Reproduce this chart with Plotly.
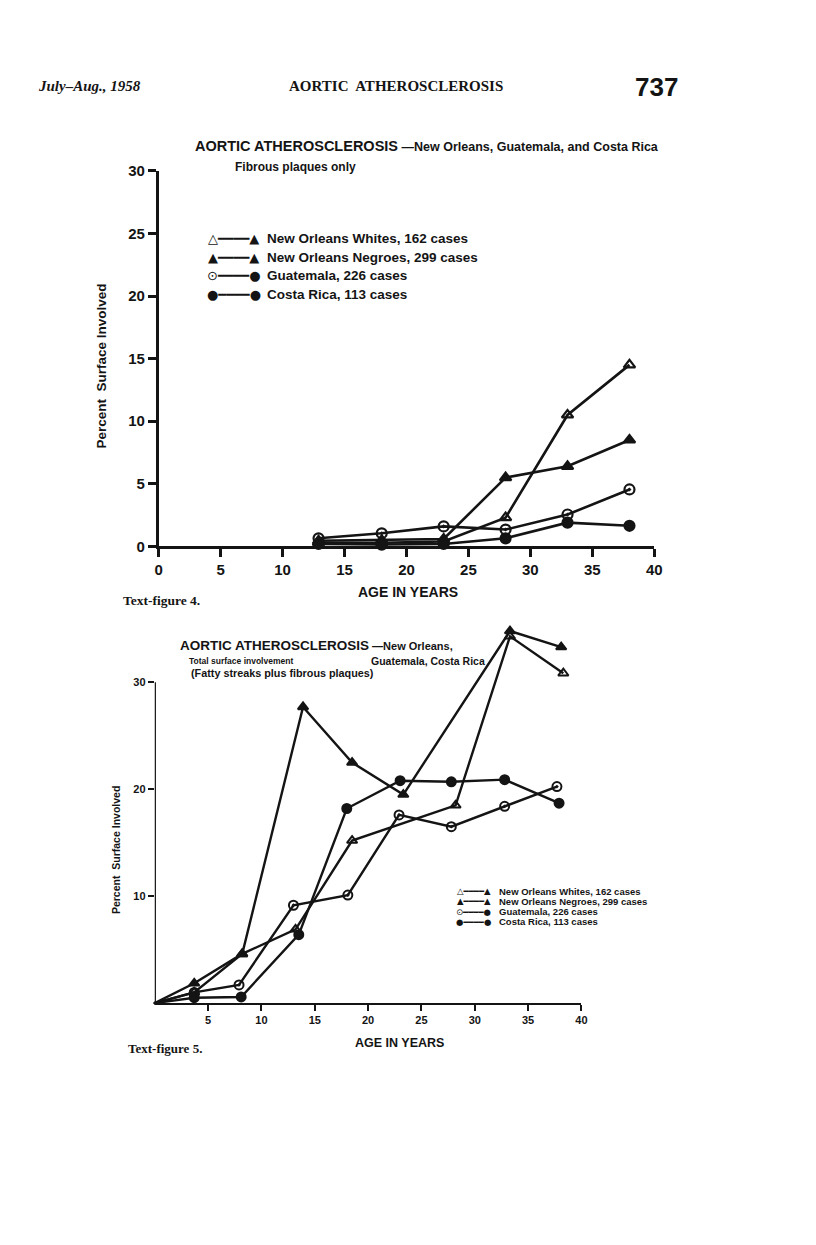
import plotly.graph_objects as go

# ---------------- DATA ----------------
# Text-figure 4: Fibrous plaques only
fig4_ages = [12.9, 18.0, 23.0, 28.0, 33.0, 38.0]
fig4_whites = [0.3, 0.3, 0.4, 2.3, 10.5, 14.5]
fig4_negroes = [0.45, 0.5, 0.6, 5.5, 6.4, 8.5]
fig4_guatemala = [0.65, 1.05, 1.6, 1.35, 2.55, 4.55]
fig4_costarica = [0.2, 0.15, 0.2, 0.65, 1.9, 1.65]

# Text-figure 5: Total surface involvement
fig5_whites_age = [0, 3.7, 8.2, 13.2, 18.5, 28.2, 33.3, 38.3]
fig5_whites = [0, 1.0, 4.6, 6.9, 15.2, 18.5, 34.3, 30.85]
fig5_negroes_age = [0, 3.7, 8.2, 13.9, 18.5, 23.3, 33.3, 38.1]
fig5_negroes = [0, 1.85, 4.6, 27.7, 22.5, 19.5, 34.8, 33.3]
fig5_guatemala_age = [0, 3.7, 7.9, 13.0, 18.1, 22.9, 27.8, 32.8, 37.7]
fig5_guatemala = [0, 1.0, 1.7, 9.15, 10.1, 17.6, 16.5, 18.4, 20.25]
fig5_costarica_age = [0, 3.7, 8.1, 13.5, 18.0, 23.0, 27.8, 32.8, 37.9]
fig5_costarica = [0, 0.5, 0.57, 6.4, 18.2, 20.8, 20.7, 20.9, 18.7]

series_names = ["New Orleans Whites, 162 cases", "New Orleans Negroes, 299 cases",
                "Guatemala, 226 cases", "Costa Rica, 113 cases"]
fig4_xticks = [0, 5, 10, 15, 20, 25, 30, 35, 40]
fig4_yticks = [0, 5, 10, 15, 20, 25, 30]
fig5_xticks = [5, 10, 15, 20, 25, 30, 35, 40]
fig5_yticks = [10, 20, 30]

# ---------------- STYLE ----------------
OFF = 8                      # default body margin of the page
W, H = 800, 1229
# measured mapping from page pixels to the photographed picture
SX, SY, CX, CY = 0.988, 0.987, 2.9, 9.2
INK = "#141414"
SANS = "Liberation Sans"
SERIF = "Liberation Serif"
symbols = ["triangle-up-open", "triangle-up", "circle-open-dot", "circle"]


def px(x):
    return ((x - CX) / SX - OFF) / W


def py(y):
    return 1 - ((y - CY) / SY - OFF) / H


fig = go.Figure()

# Figure 4 traces
for name, ys, sym in zip(series_names,
                         [fig4_whites, fig4_negroes, fig4_guatemala, fig4_costarica],
                         symbols):
    fig.add_trace(go.Scatter(
        x=fig4_ages, y=ys, name=name, mode="lines+markers",
        line=dict(color=INK, width=2.6),
        marker=dict(symbol=sym, size=10, color=INK, opacity=1,
                    line=dict(color=INK, width=2.2)),
        xaxis="x", yaxis="y", cliponaxis=False, showlegend=False))

# Figure 5 traces
for name, xs, ys, sym in zip(series_names,
                             [fig5_whites_age, fig5_negroes_age, fig5_guatemala_age, fig5_costarica_age],
                             [fig5_whites, fig5_negroes, fig5_guatemala, fig5_costarica],
                             symbols):
    fig.add_trace(go.Scatter(
        x=xs, y=ys, name=name, mode="lines+markers",
        line=dict(color=INK, width=2.4),
        marker=dict(symbol=sym, size=[0] + [9] * (len(xs) - 1), color=INK, opacity=1,
                    line=dict(color=INK, width=2)),
        xaxis="x2", yaxis="y2", cliponaxis=False, showlegend=False))

axis_common = dict(showgrid=False, zeroline=False, linecolor=INK,
                   ticks="outside", tickcolor=INK, color=INK, fixedrange=True)

# fig 5: 0 at y=1002, 30 at y=682 (picture px); range extended so the peaks are not clipped
f5_unit = (1004 - 683) / 30.0
f5_top = 36
fig.update_layout(
    width=W, height=H, margin=dict(l=0, r=0, t=0, b=0),
    paper_bgcolor="white", plot_bgcolor="rgba(0,0,0,0)", showlegend=False,
    xaxis=dict(domain=[px(158), px(655)], range=[0, 40], anchor="y", showline=True,
               tickvals=fig4_xticks, linewidth=2.6, tickwidth=2.6, ticklen=8,
               tickfont=dict(family=SANS, size=15, color=INK, weight="bold"),
               **axis_common),
    yaxis=dict(domain=[py(547), py(171)], range=[0, 30], anchor="x", showline=True,
               tickvals=fig4_yticks, linewidth=2.6, tickwidth=2.6, ticklen=8,
               tickfont=dict(family=SANS, size=15, color=INK, weight="bold"),
               **axis_common),
    xaxis2=dict(domain=[px(154), px(582)], range=[0, 40], anchor="y2", showline=True,
                tickvals=fig5_xticks, linewidth=2.4, tickwidth=2.4, ticklen=6,
                tickfont=dict(family=SANS, size=11, color=INK, weight="bold"),
                **axis_common),
    yaxis2=dict(domain=[py(1004), py(1004 - f5_unit * f5_top)], range=[0, f5_top],
                anchor="x2", showline=False,
                tickvals=fig5_yticks, tickwidth=2.4, ticklen=6,
                tickfont=dict(family=SANS, size=11, color=INK, weight="bold"),
                **axis_common),
    shapes=[dict(type="line", xref="x2", yref="y2", x0=0, x1=0, y0=0, y1=max(fig5_yticks),
                 line=dict(color=INK, width=2.4))],
)

ann = []


def text(x, y, s, size, family=SANS, bold=True, italic=False, xanchor="left",
         yanchor="middle", angle=0):
    ann.append(dict(x=px(x), y=py(y), xref="paper", yref="paper", text=s,
                    showarrow=False, xanchor=xanchor, yanchor=yanchor, textangle=angle,
                    font=dict(family=family, size=size, color=INK,
                              weight="bold" if bold else "normal",
                              style="italic" if italic else "normal")))


# Page header
text(35, 86, "July–Aug., 1958", 15, family=SERIF, italic=True)
text(396, 86, "AORTIC  ATHEROSCLEROSIS", 15, family=SERIF, xanchor="center")
text(681, 87, "737", 26, family=SANS, xanchor="right")

# Figure 4 titles
text(192, 146, "AORTIC ATHEROSCLEROSIS<span style='font-size:12.5px'> —New Orleans, Guatemala, and Costa Rica</span>", 14.5)
text(232, 167, "Fibrous plaques only", 12)
text(408, 593, "AGE IN YEARS", 14, xanchor="center")
text(101, 366, "Percent  Surface Involved", 13.5, xanchor="center", angle=-90)
text(120, 601, "Text-figure 4.", 13.5, family=SERIF)

# Figure 4 legend
leg_keys = ["△━━━━▲", "▲━━━━▲", "⊙━━━━●", "●━━━━●"]
for i, (k, n) in enumerate(zip(leg_keys, series_names)):
    yy = 239 + i * 18.5
    text(233, yy, k, 13, family="DejaVu Sans", bold=False, xanchor="center")
    text(265, yy, n, 13.5)

# Figure 5 titles
text(177, 646, "AORTIC ATHEROSCLEROSIS<span style='font-size:11px'> —New Orleans,</span>", 13.5)
text(186, 662, "Total surface involvement", 8.5)
text(369, 662, "Guatemala, Costa Rica", 10.5)
text(188, 674, "(Fatty streaks plus fibrous plaques)", 10.8)
text(399, 1044, "AGE IN YEARS", 12.5, xanchor="center")
text(115, 851, "Percent  Surface Involved", 10.5, xanchor="center", angle=-90)
text(125, 1049, "Text-figure 5.", 13, family=SERIF)

# Figure 5 legend
for i, (k, n) in enumerate(zip(leg_keys, series_names)):
    yy = 892 + i * 10.2
    text(474, yy, k, 8.5, family="DejaVu Sans", bold=False, xanchor="center")
    text(497, yy, n, 9.5)

fig.update_layout(annotations=ann)
fig.write_html("out.html")
